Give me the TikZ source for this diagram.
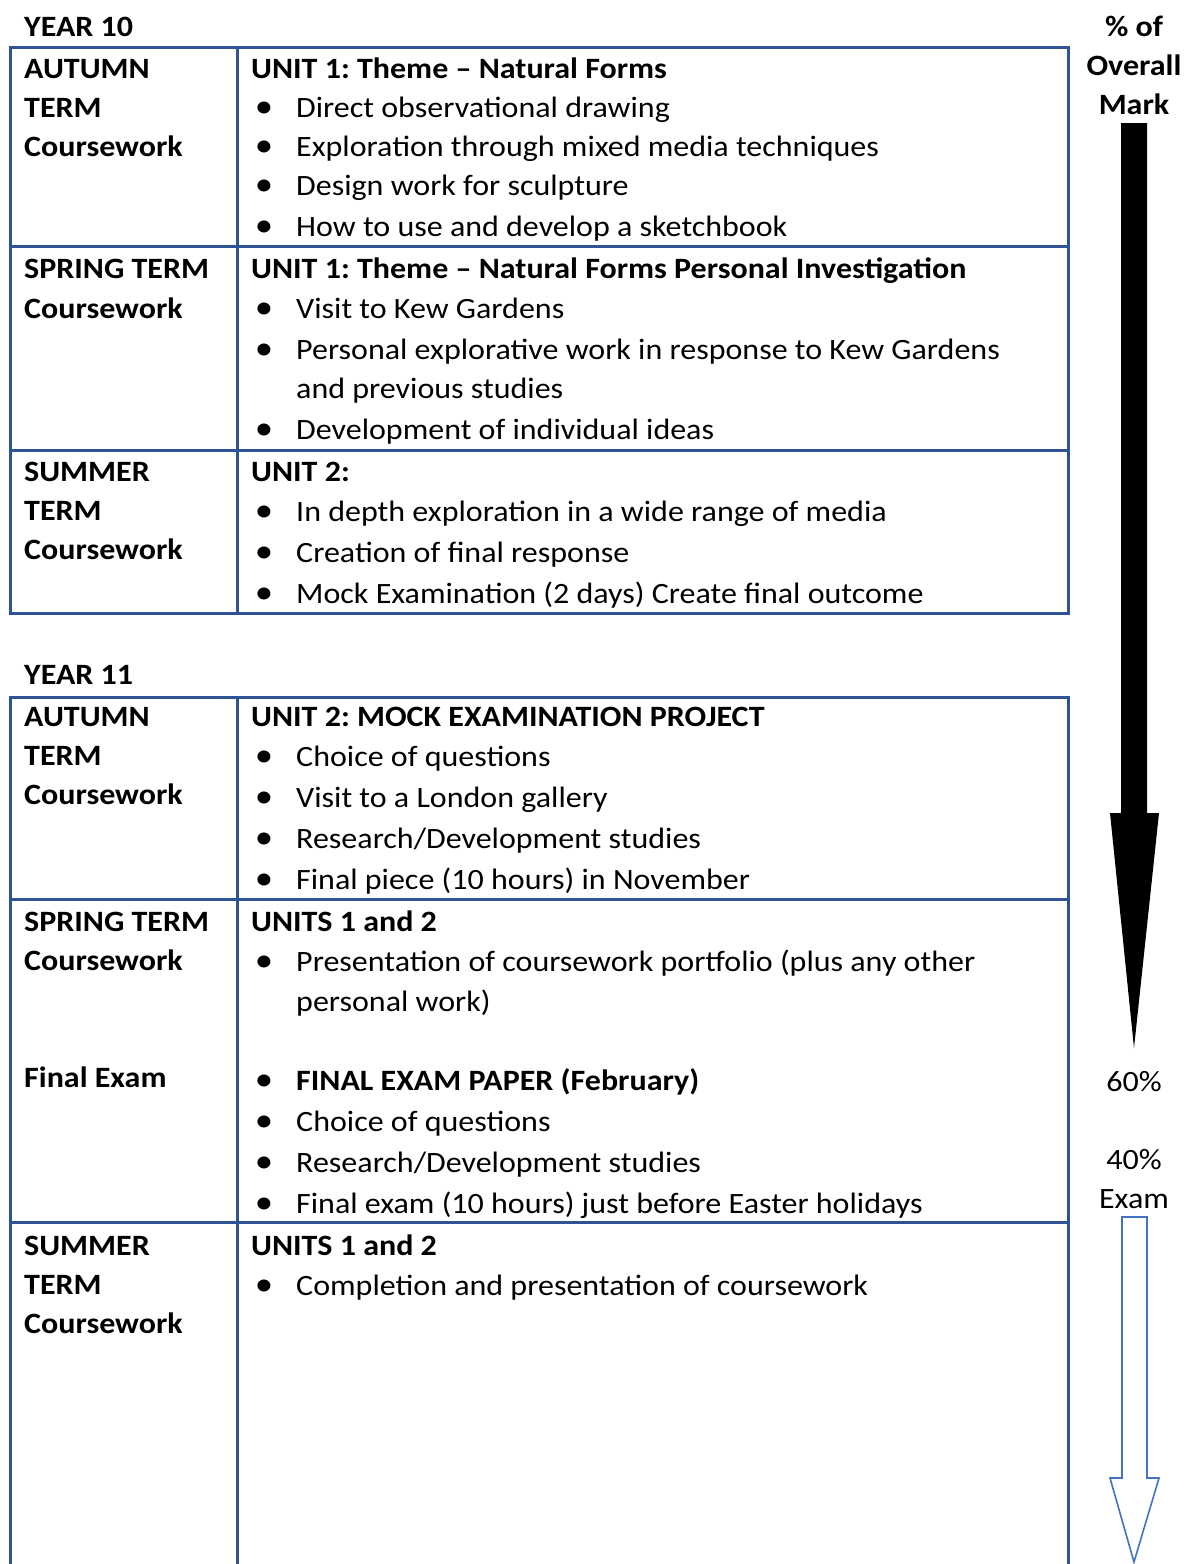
\documentclass[tikz,border=0pt]{standalone}
\usepackage{fontspec}
\setmainfont{Carlito}[FakeStretch=1.085]
\usepackage{xcolor}
\usepackage{tikz}
\definecolor{gridblue}{HTML}{2F5496}
\definecolor{examblue}{HTML}{4472C4}
\frenchspacing

\begin{document}
\begin{tikzpicture}[x=1pt,y=-1pt,font=\fontsize{29.5}{35}\selectfont,
 grid/.style={draw=gridblue,line width=3pt},
 lbl/.style={anchor=base west,inner sep=0pt,font=\fontsize{29.5}{35}\selectfont\bfseries},
 itm/.style={anchor=base west,inner sep=0pt},
 dot/.style={anchor=base,inner sep=0pt,scale=1.15},
 pct/.style={anchor=base,inner sep=0pt}]
\path[use as bounding box] (0,0) rectangle (1184,1564);
% year 10 table
\node[lbl] (y10) at (24,36.5) {YEAR 10};
\draw[grid] (10,47) rectangle (1068,613);
\draw[grid] (237,47)--(237,613) (10,246)--(1068,246) (10,450)--(1068,450);
% autumn
\node[lbl] (a10a) at (24,78.5) {AUTUMN};
\node[lbl] (a10b) at (24,117.5) {TERM};
\node[lbl] (a10c) at (24,156.5) {Coursework};
\node[lbl] (u10a) at (251,78.5) {UNIT 1: Theme – Natural Forms};
\foreach \y/\t [count=\i] in {117.5/Direct observational drawing,156.5/Exploration through mixed media techniques,195.5/Design work for sculpture,236.5/How to use and develop a sketchbook}{
 \node[dot] (d10a\i) at (264,\y) {\textbullet};
 \node[itm] (t10a\i) at (296,\y) {\t};}
% spring
\node[lbl] (s10a) at (24,278.5) {SPRING TERM};
\node[lbl] (s10b) at (24,318.5) {Coursework};
\node[lbl] (u10b) at (251,278.5) {UNIT 1: Theme – Natural Forms Personal Investigation};
\foreach \y/\t [count=\i] in {318.5/Visit to Kew Gardens,359.5/Personal explorative work in response to Kew Gardens,439.5/Development of individual ideas}{
 \node[dot] (d10b\i) at (264,\y) {\textbullet};
 \node[itm] (t10b\i) at (296,\y) {\t};}
\node[itm] (t10b4) at (296,398.5) {and previous studies};
% summer
\node[lbl] (m10a) at (24,481.5) {SUMMER};
\node[lbl] (m10b) at (24,520.5) {TERM};
\node[lbl] (m10c) at (24,559.5) {Coursework};
\node[lbl] (u10c) at (251,481.5) {UNIT 2:};
\foreach \y/\t [count=\i] in {521.5/In depth exploration in a wide range of media,562.5/Creation of final response,603.5/Mock Examination (2 days) Create final outcome}{
 \node[dot] (d10c\i) at (264,\y) {\textbullet};
 \node[itm] (t10c\i) at (296,\y) {\t};}

% year 11 table
\node[lbl] (y11) at (24,684.5) {YEAR 11};
\draw[grid] (10,1564)--(10,697)--(1068,697)--(1068,1564);
\draw[grid] (237,697)--(237,1564) (10,899)--(1068,899) (10,1222)--(1068,1222);
% autumn
\node[lbl] (a11a) at (24,726.5) {AUTUMN};
\node[lbl] (a11b) at (24,765.5) {TERM};
\node[lbl] (a11c) at (24,804.5) {Coursework};
\node[lbl] (u11a) at (251,726.5) {UNIT 2: MOCK EXAMINATION PROJECT};
\foreach \y/\t [count=\i] in {766.5/Choice of questions,807.5/Visit to a London gallery,848.5/{Research/Development studies},889.5/Final piece (10 hours) in November}{
 \node[dot] (d11a\i) at (264,\y) {\textbullet};
 \node[itm] (t11a\i) at (296,\y) {\t};}
% spring + final exam
\node[lbl] (s11a) at (24,931.5) {SPRING TERM};
\node[lbl] (s11b) at (24,970.5) {Coursework};
\node[lbl] (s11c) at (24,1087.5) {Final Exam};
\node[lbl] (u11b) at (251,931.5) {UNITS 1 and 2};
\node[dot] (d11b1) at (264,971.5) {\textbullet};
\node[itm] (t11b1) at (296,971.5) {Presentation of coursework portfolio (plus any other};
\node[itm] (t11b2) at (296,1011.5) {personal work)};
\node[dot] (d11b3) at (264,1090.5) {\textbullet};
\node[lbl] (t11b3) at (296,1090.5) {FINAL EXAM PAPER (February)};
\foreach \y/\t [count=\i from 4] in {1131.5/Choice of questions,1172.5/{Research/Development studies},1213.5/Final exam (10 hours) just before Easter holidays}{
 \node[dot] (d11b\i) at (264,\y) {\textbullet};
 \node[itm] (t11b\i) at (296,\y) {\t};}
% summer
\node[lbl] (m11a) at (24,1255.5) {SUMMER};
\node[lbl] (m11b) at (24,1294.5) {TERM};
\node[lbl] (m11c) at (24,1333.5) {Coursework};
\node[lbl] (u11c) at (251,1255.5) {UNITS 1 and 2};
\node[dot] (d11c1) at (264,1295.5) {\textbullet};
\node[itm] (t11c1) at (296,1295.5) {Completion and presentation of coursework};

% overall mark column
\node[pct,font=\fontsize{29.5}{35}\selectfont\bfseries] (pof) at (1134,36.5) {\% of};
\node[pct,font=\fontsize{29.5}{35}\selectfont\bfseries] (povr) at (1134,75.5) {Overall};
\node[pct,font=\fontsize{29.5}{35}\selectfont\bfseries] (pmrk) at (1134,114.5) {Mark};
\fill[black] (1121,123)--(1147,123)--(1147,813)--(1159,813)--(1134,1048)--(1110,813)--(1121,813)--cycle;
\node[pct] (p60) at (1134,1091.5) {60\%};
\node[pct] (p40) at (1134,1169.5) {40\%};
\node[pct] (pexm) at (1134,1208.5) {Exam};
\draw[examblue,line width=1.6pt,line join=miter] (1122,1217)--(1147,1217)--(1147,1478)--(1159,1478)--(1134,1562)--(1110,1478)--(1122,1478)--cycle;
\end{tikzpicture}
\end{document}
